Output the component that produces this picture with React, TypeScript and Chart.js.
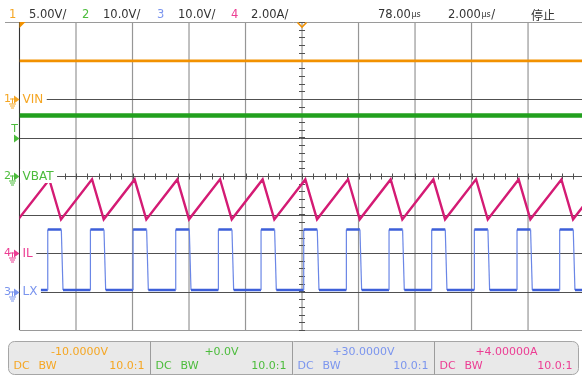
import React, { useEffect, useRef } from "react";
import { Chart, registerables } from "chart.js";

Chart.register(...registerables);

const W = 582;
const H = 376;

// ---- header / panel texts ----
const channelNumbers = ["1", "2", "3", "4"];
const channelScaleTexts = ["5.00V/", "10.0V/", "10.0V/", "2.00A/"];
const delayText = "78.00";
const timebaseText = "2.000";
const runStateText = "停止";
const offsetTexts = ["-10.0000V", "+0.0V", "+30.0000V", "+4.00000A"];
const couplingText = "DC";
const bwText = "BW";
const probeText = "10.0:1";
const channelLabels = ["VIN", "VBAT", "LX", "IL"];

// ---- channel settings (units per division, offset) ----
const chScale = [5, 10, 10, 2];
const chOffset = [-10, 0, 30, 4];
const triggerLevelCh2 = 10; // V on channel 2

// ---- time axis (µs), 2 µs / div ----
const timeMin = 0;
const timeMax = 19.91;
const gridTimes = [0, 2, 4, 6, 8, 10, 12, 14, 16, 18, 20];
const gridDivs = [-4, -3, -2, -1, 0, 1, 2, 3, 4];

// ---- CH1 VIN (V) ----
const vinTimes = [0, 19.91];
const vinValues = [4.95, 4.95];

// ---- CH2 VBAT (V) ----
const vbatTimes = [0, 19.91];
const vbatValues = [15.7, 15.7];

// ---- CH4 IL (A): troughs & peaks ----
const ilTroughTimes = [-0.042, 1.469, 2.981, 4.489, 6.0, 7.512, 9.02, 10.531, 12.043, 13.551, 15.063, 16.574, 18.082, 19.594];
const ilTroughValues = [1.75, 1.74, 1.75, 1.74, 1.75, 1.75, 1.74, 1.75, 1.75, 1.74, 1.75, 1.74, 1.75, 1.75];
const ilPeakTimes = [1.055, 2.567, 4.075, 5.586, 7.098, 8.606, 10.117, 11.629, 13.137, 14.649, 16.16, 17.668, 19.18, 20.69];
const ilPeakValues = [3.82, 3.83, 3.82, 3.82, 3.83, 3.82, 3.82, 3.83, 3.82, 3.82, 3.83, 3.82, 3.82, 3.82];

// ---- CH3 LX (V): switching edges ----
const lxRiseTimes = [1.0, 2.51, 4.02, 5.53, 7.04, 8.55, 10.06, 11.57, 13.08, 14.59, 16.1, 17.61, 19.12];
const lxFallTimes = [1.48, 2.99, 4.5, 6.01, 7.52, 9.03, 10.54, 12.05, 13.56, 15.07, 16.58, 18.09, 19.6];
const lxHigh = 16.1;
const lxLow = 0.4;
const lxFallDuration = 0.06;

// ---- colours ----
const labelColors = ["#f5a623", "#4cbc3c", "#7b95ee", "#ec3d93"];
const traceColors = ["#f29100", "#22a01e", "#3d5fd9", "#d41b74"];

const FONT = '"DejaVu Sans", "Liberation Sans", sans-serif';

function toDiv(ch: number, v: number) {
  return (v - chOffset[ch]) / chScale[ch];
}

function buildSimple(ch: number, times: number[], values: number[]) {
  return times.map((t, i) => ({ x: t, y: toDiv(ch, values[i]) }));
}

function buildIL() {
  const pts: { x: number; y: number }[] = [];
  for (let i = 0; i < ilTroughTimes.length; i++) {
    pts.push({ x: ilTroughTimes[i], y: toDiv(3, ilTroughValues[i]) });
    if (i < ilPeakTimes.length) pts.push({ x: ilPeakTimes[i], y: toDiv(3, ilPeakValues[i]) });
  }
  return pts;
}

function buildLX() {
  const pts: { x: number; y: number }[] = [{ x: timeMin, y: toDiv(2, lxLow) }];
  for (let i = 0; i < lxRiseTimes.length; i++) {
    pts.push({ x: lxRiseTimes[i], y: toDiv(2, lxLow) });
    pts.push({ x: lxRiseTimes[i], y: toDiv(2, lxHigh) });
    pts.push({ x: lxFallTimes[i], y: toDiv(2, lxHigh) });
    pts.push({ x: lxFallTimes[i] + lxFallDuration, y: toDiv(2, lxLow) });
  }
  pts.push({ x: timeMax, y: toDiv(2, lxLow) });
  return pts;
}

function drawGround(ctx: CanvasRenderingContext2D, y: number, color: string, num: string) {
  ctx.save();
  ctx.fillStyle = color;
  ctx.strokeStyle = color;
  ctx.font = `11px ${FONT}`;
  ctx.textAlign = "center";
  ctx.textBaseline = "middle";
  ctx.fillText(num, 7.5, y);
  ctx.beginPath();
  ctx.moveTo(14, y - 4);
  ctx.lineTo(19.5, y);
  ctx.lineTo(14, y + 4);
  ctx.closePath();
  ctx.fill();
  ctx.lineWidth = 1;
  ctx.beginPath();
  ctx.moveTo(12.5, y - 1);
  ctx.lineTo(12.5, y + 4);
  ctx.moveTo(9, y + 4.5);
  ctx.lineTo(16, y + 4.5);
  ctx.moveTo(10, y + 6.5);
  ctx.lineTo(15, y + 6.5);
  ctx.moveTo(11, y + 8.5);
  ctx.lineTo(14, y + 8.5);
  ctx.moveTo(10, y - 0.5);
  ctx.lineTo(14, y - 0.5);
  ctx.stroke();
  ctx.restore();
}

const scopePlugin = {
  id: "scope",
  beforeDraw(chart: any) {
    const ctx = chart.ctx as CanvasRenderingContext2D;
    ctx.save();
    ctx.fillStyle = "#ffffff";
    ctx.fillRect(0, 0, chart.width, chart.height);
    ctx.restore();
  },
  beforeDatasetsDraw(chart: any) {
    const ctx = chart.ctx as CanvasRenderingContext2D;
    const xs = chart.scales.x;
    const ys = chart.scales.y;
    const { left, right, top, bottom } = chart.chartArea;
    ctx.save();
    ctx.lineWidth = 1.2;
    ctx.strokeStyle = "#969696";
    gridTimes.forEach((t) => {
      const x = xs.getPixelForValue(t);
      if (x > right + 1) return;
      ctx.beginPath();
      ctx.moveTo(x, top);
      ctx.lineTo(x, bottom);
      ctx.stroke();
    });
    gridDivs.forEach((d) => {
      const y = Math.round(ys.getPixelForValue(d)) + 0.5;
      ctx.lineWidth = 1;
      ctx.strokeStyle = d === 4 || d === -4 ? "#9a9a9a" : "#505050";
      ctx.beginPath();
      ctx.moveTo(d === 4 ? 5 : left, y);
      ctx.lineTo(right, y);
      ctx.stroke();
    });
    ctx.strokeStyle = "#333333";
    ctx.lineWidth = 1;
    ctx.beginPath();
    ctx.moveTo(Math.round(left) - 0.5, top);
    ctx.lineTo(Math.round(left) - 0.5, bottom);
    ctx.stroke();
    const cy = Math.round(ys.getPixelForValue(0)) + 0.5;
    const cx = xs.getPixelForValue(10);
    ctx.strokeStyle = "#505050";
    ctx.beginPath();
    for (let t = timeMin; t <= timeMax; t += 0.4) {
      const x = Math.round(xs.getPixelForValue(t)) + 0.5;
      ctx.moveTo(x, cy - 3);
      ctx.lineTo(x, cy + 3);
    }
    for (let d = -4; d <= 4.001; d += 0.2) {
      const y = Math.round(ys.getPixelForValue(d)) + 0.5;
      ctx.moveTo(cx - 3, y);
      ctx.lineTo(cx + 3, y);
    }
    ctx.stroke();
    ctx.restore();
  },
  afterDatasetsDraw(chart: any) {
    const ctx = chart.ctx as CanvasRenderingContext2D;
    const xs = chart.scales.x;
    const ys = chart.scales.y;
    const { left, top } = chart.chartArea;
    ctx.save();

    const labelOrder = [0, 1, 3, 2];
    labelOrder.forEach((ch) => {
      const gDiv = -chOffset[ch] / chScale[ch];
      const y = ys.getPixelForValue(gDiv);
      ctx.font = `12px ${FONT}`;
      const w = ctx.measureText(channelLabels[ch]).width;
      ctx.fillStyle = "#ffffff";
      ctx.fillRect(left + 0.5, y - 7, w + 6, 14);
      ctx.fillStyle = labelColors[ch];
      ctx.textAlign = "left";
      ctx.textBaseline = "middle";
      ctx.fillText(channelLabels[ch], left + 3, y + 0.5);
      drawGround(ctx, Math.round(y) + 0.5, labelColors[ch], channelNumbers[ch]);
    });

    const ty = Math.round(ys.getPixelForValue(toDiv(1, triggerLevelCh2))) + 0.5;
    ctx.fillStyle = labelColors[1];
    ctx.font = `11px ${FONT}`;
    ctx.textAlign = "center";
    ctx.textBaseline = "middle";
    ctx.fillText("T", 14.5, ty - 9);
    ctx.beginPath();
    ctx.moveTo(14, ty - 4);
    ctx.lineTo(19.5, ty);
    ctx.lineTo(14, ty + 4);
    ctx.closePath();
    ctx.fill();

    ctx.fillStyle = traceColors[0];
    ctx.beginPath();
    ctx.moveTo(left, top);
    ctx.lineTo(left + 6, top);
    ctx.lineTo(left, top + 6);
    ctx.closePath();
    ctx.fill();
    const tx = xs.getPixelForValue(10);
    ctx.strokeStyle = traceColors[0];
    ctx.lineWidth = 1.6;
    ctx.beginPath();
    ctx.moveTo(tx - 4.5, top + 0.5);
    ctx.lineTo(tx, top + 5);
    ctx.lineTo(tx + 4.5, top + 0.5);
    ctx.stroke();

    const hy = 15;
    ctx.textAlign = "left";
    ctx.textBaseline = "middle";
    ctx.font = `11.5px ${FONT}`;
    const numX = [9, 82, 157, 231];
    const valX = [29, 103, 178, 251];
    for (let i = 0; i < 4; i++) {
      ctx.fillStyle = labelColors[i];
      ctx.fillText(channelNumbers[i], numX[i], hy);
      ctx.fillStyle = "#333333";
      ctx.fillText(channelScaleTexts[i], valX[i], hy);
    }
    ctx.fillStyle = "#333333";
    ctx.fillText(delayText, 378, hy);
    const w1 = ctx.measureText(delayText).width;
    ctx.font = `8px ${FONT}`;
    ctx.fillText("µs", 378 + w1 + 0.5, hy);
    ctx.font = `11.5px ${FONT}`;
    ctx.fillText(timebaseText, 448, hy);
    const w2 = ctx.measureText(timebaseText).width;
    ctx.font = `8px ${FONT}`;
    ctx.fillText("µs", 448 + w2 + 0.5, hy);
    const w3 = ctx.measureText("µs").width;
    ctx.font = `11.5px ${FONT}`;
    ctx.fillText("/", 448 + w2 + w3 + 1, hy);
    ctx.font = `12px "Noto Sans CJK SC", sans-serif`;
    ctx.fillText(runStateText, 531, hy);

    const px0 = 8.5;
    const px1 = 578.5;
    const py0 = 341.5;
    const py1 = 374.5;
    ctx.fillStyle = "#e9e9e9";
    ctx.strokeStyle = "#a6a6a6";
    ctx.lineWidth = 1;
    ctx.beginPath();
    (ctx as any).roundRect(px0, py0, px1 - px0, py1 - py0, 6);
    ctx.fill();
    ctx.stroke();
    const secX = [8.5, 150.5, 292.5, 434.5, 578.5];
    ctx.strokeStyle = "#9c9c9c";
    ctx.beginPath();
    for (let i = 1; i < 4; i++) {
      ctx.moveTo(secX[i], py0);
      ctx.lineTo(secX[i], py1);
    }
    ctx.stroke();
    ctx.font = `11px ${FONT}`;
    ctx.textBaseline = "middle";
    for (let i = 0; i < 4; i++) {
      const l = secX[i];
      const r = secX[i + 1];
      ctx.fillStyle = labelColors[i];
      ctx.textAlign = "center";
      ctx.fillText(offsetTexts[i], (l + r) / 2, 352);
      ctx.textAlign = "left";
      ctx.fillText(couplingText, l + 5, 366);
      ctx.fillText(bwText, l + 30, 366);
      ctx.textAlign = "right";
      ctx.fillText(probeText, r - 6, 366);
    }
    ctx.restore();
  },
};

export default function App() {
  const canvasRef = useRef<HTMLCanvasElement | null>(null);

  useEffect(() => {
    const canvas = canvasRef.current;
    if (!canvas) return;
    const isFlat = (c: any) => c.p0.parsed.y === c.p1.parsed.y;
    const chart = new Chart(canvas, {
      type: "line",
      data: {
        datasets: [
          {
            label: "VIN",
            data: buildSimple(0, vinTimes, vinValues),
            borderColor: traceColors[0],
            borderWidth: 2.6,
            pointRadius: 0,
          },
          {
            label: "VBAT",
            data: buildSimple(1, vbatTimes, vbatValues),
            borderColor: traceColors[1],
            borderWidth: 4.5,
            pointRadius: 0,
          },
          {
            label: "IL",
            data: buildIL(),
            borderColor: traceColors[3],
            borderWidth: 2.4,
            pointRadius: 0,
          },
          {
            label: "LX",
            data: buildLX(),
            borderColor: traceColors[2],
            borderWidth: 2,
            pointRadius: 0,
            segment: {
              borderWidth: (c: any) => (isFlat(c) ? 2.4 : 1.2),
              borderColor: (c: any) => (isFlat(c) ? "#3d5fd9" : "#6a86e6"),
            },
          },
        ] as any,
      },
      options: {
        responsive: false,
        animation: false,
        devicePixelRatio: 1,
        events: [],
        layout: { padding: { left: 19.5, top: 22, right: 0, bottom: 46 } },
        scales: {
          x: { type: "linear", min: timeMin, max: timeMax, display: false },
          y: { type: "linear", min: -4, max: 4, display: false },
        },
        plugins: {
          legend: { display: false },
          tooltip: { enabled: false },
        },
        elements: { point: { radius: 0 }, line: { tension: 0 } },
      },
      plugins: [scopePlugin],
    });
    return () => chart.destroy();
  }, []);

  return (
    <div style={{ position: "fixed", left: 0, top: 0, width: W, height: H, background: "#fff" }}>
      <canvas ref={canvasRef} width={W} height={H} style={{ display: "block", width: W, height: H }} />
    </div>
  );
}
